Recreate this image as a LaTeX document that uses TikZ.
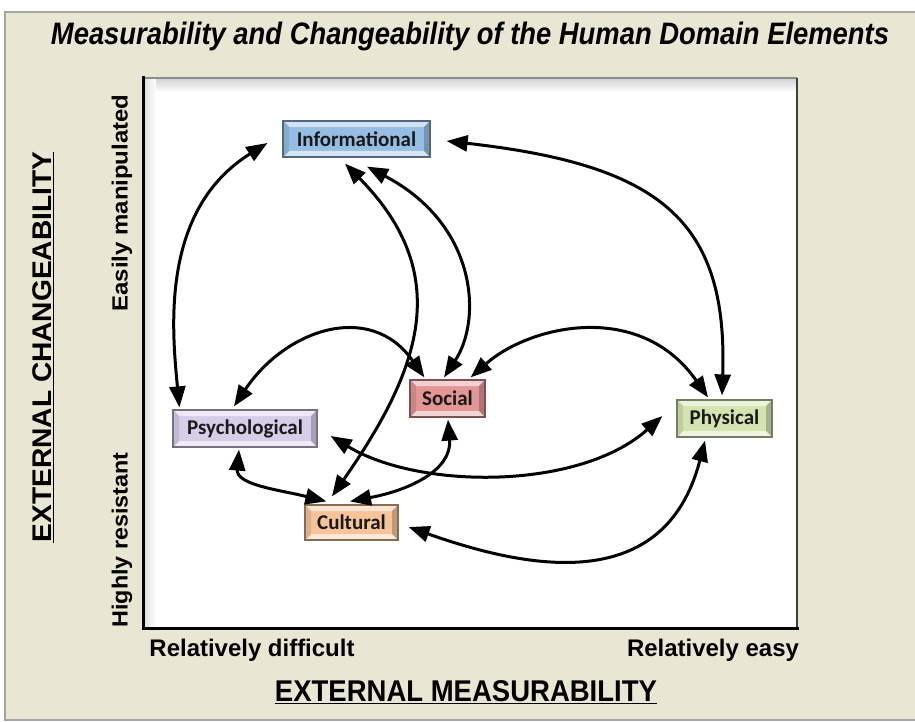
\documentclass[tikz,border=0pt]{standalone}
\usepackage{fontspec}
\setmainfont{Liberation Sans}
\newfontfamily\carlito{Carlito}
\usetikzlibrary{arrows.meta,calc}
\definecolor{beige}{RGB}{234,230,212}
\definecolor{infoC}{RGB}{150,190,228}
\definecolor{psyC}{RGB}{214,206,232}
\definecolor{socC}{RGB}{226,150,150}
\definecolor{phyC}{RGB}{212,228,176}
\definecolor{culC}{RGB}{246,196,152}
\tikzset{
  arr/.style={line width=3pt,{Triangle[length=21pt,width=16pt]}-{Triangle[length=21pt,width=16pt]}},
  hbox/.style 2 args={draw=#2, line width=1.2pt, fill=#1, minimum height=36pt, inner sep=0pt,
    font=\carlito\bfseries\fontsize{21}{21}\selectfont, text=black!90,
    path picture={
      \path (path picture bounding box.north west) coordinate (pnw)
            (path picture bounding box.north east) coordinate (pne)
            (path picture bounding box.south west) coordinate (psw)
            (path picture bounding box.south east) coordinate (pse);
      \fill[#1!45!white] (pnw) -- (pne) -- ([shift={(-6pt,-6pt)}]pne) -- ([shift={(6pt,-6pt)}]pnw) -- cycle;
      \fill[#1!40!white] (psw) -- (pse) -- ([shift={(-6pt,6pt)}]pse) -- ([shift={(6pt,6pt)}]psw) -- cycle;
      \fill[#1!90!black] (pnw) -- ([shift={(6pt,-6pt)}]pnw) -- ([shift={(6pt,6pt)}]psw) -- (psw) -- cycle;
      \fill[#1!78!black] (pne) -- ([shift={(-6pt,-6pt)}]pne) -- ([shift={(-6pt,6pt)}]pse) -- (pse) -- cycle;
    }},
  lab/.style={font=\bfseries, inner sep=0pt}
}
\begin{document}
\begin{tikzpicture}[x=1pt,y=-1pt]
\useasboundingbox (0,0) rectangle (915,722);
\fill[white] (0,0) rectangle (915,722);
% beige panel
\fill[beige] (5,12) rectangle (920,720);
\draw[gray!70, line width=1.5pt] (920,12) -- (5,12) -- (5,720) -- (920,720);
% plot area
\fill[white] (143,78) rectangle (797,628);
\shade[top color=black!18, bottom color=white] (143,78) rectangle (797,92);
\shade[left color=black!14, right color=white] (143,78) rectangle (156,628);
\draw[black!45, line width=1.5pt] (143,78) -- (797,78);
\draw[black!75, line width=2pt] (797,78) -- (797,628);
\draw[black, line width=3pt] (143,76) -- (143,628) -- (798.5,628);
% title
\node[lab, font=\bfseries\itshape\fontsize{31}{31}\selectfont] (title) at (470,36)
  {\resizebox{838pt}{\height}{Measurability and Changeability of the Human Domain Elements}};
% axis labels
\node[lab, font=\bfseries\fontsize{24}{24}\selectfont] (rd) at (252,650) {\resizebox{205pt}{\height}{Relatively difficult}};
\node[lab, font=\bfseries\fontsize{24}{24}\selectfont] (re) at (713,650) {\resizebox{172pt}{\height}{Relatively easy}};
\node[lab, font=\bfseries\fontsize{30}{30}\selectfont] (xm) at (466,692) {\resizebox{382pt}{\height}{\underline{EXTERNAL MEASURABILITY}}};
\node[lab, rotate=90, font=\bfseries\fontsize{27}{27}\selectfont] (yc) at (43,347) {\resizebox{391pt}{\height}{\underline{EXTERNAL CHANGEABILITY}}};
\node[lab, rotate=90, font=\bfseries\fontsize{22}{22}\selectfont] (em) at (122,203) {\resizebox{217pt}{\height}{Easily manipulated}};
\node[lab, rotate=90, font=\bfseries\fontsize{22}{22}\selectfont] (hr) at (122,540) {\resizebox{175pt}{\height}{Highly resistant}};
% boxes
\node[hbox={infoC}{infoC!55!black}, minimum width=147pt] (info) at (356.5,139) {Informational};
\node[hbox={psyC}{psyC!55!black}, minimum width=144pt, minimum height=37pt] (psy) at (245,428.5) {Psychological};
\node[hbox={socC}{socC!55!black}, minimum width=75pt, minimum height=37pt] (soc) at (447.5,398.5) {Social};
\node[hbox={phyC}{phyC!55!black}, minimum width=95pt, minimum height=37pt] (phy) at (724.5,418.5) {Physical};
\node[hbox={culC}{culC!55!black}, minimum width=93pt, minimum height=35pt] (cul) at (351.5,522.5) {Cultural};
% arrows
\draw[arr] ([shift={(-15,4)}]info.west) .. controls (160,210) and (172,330) .. ([shift={(7,-2)}]psy.north west);
\draw[arr] ([shift={(-11.5,6)}]info.south) .. controls (455,275) and (420,370) .. ([shift={(-19.5,-8)}]cul.north);
\draw[arr] ([shift={(10.5,9)}]info.south) .. controls (478,225) and (482,320) .. ([shift={(-3.5,-2)}]soc.north);
\draw[arr] ([shift={(16,2)}]info.east) .. controls (660,165) and (728,220) .. ([shift={(-2.5,-4)}]phy.north);
\draw[arr] ([shift={(-11,-3)}]psy.north) .. controls (285,330) and (370,300) .. ([shift={(15,-2)}]soc.north west);
\draw[arr] ([shift={(-15,-2)}]soc.north east) .. controls (530,325) and (640,300) .. ([shift={(-16.5,-2)}]phy.north);
\draw[arr] ([shift={(13,7.5)}]psy.east) .. controls (420,490) and (580,490) .. ([shift={(-14,-2.5)}]phy.west);
\draw[arr] ([shift={(-6,2)}]psy.south) .. controls (236,485) and (280,490) .. ([shift={(22,-3)}]cul.north west);
\draw[arr] ([shift={(0.5,2)}]soc.south) .. controls (452,470) and (410,490) .. ([shift={(-1.5,-3)}]cul.north);
\draw[arr] ([shift={(10,4.5)}]cul.east) .. controls (530,570) and (665,595) .. ([shift={(-19.5,3)}]phy.south);
\end{tikzpicture}
\end{document}
